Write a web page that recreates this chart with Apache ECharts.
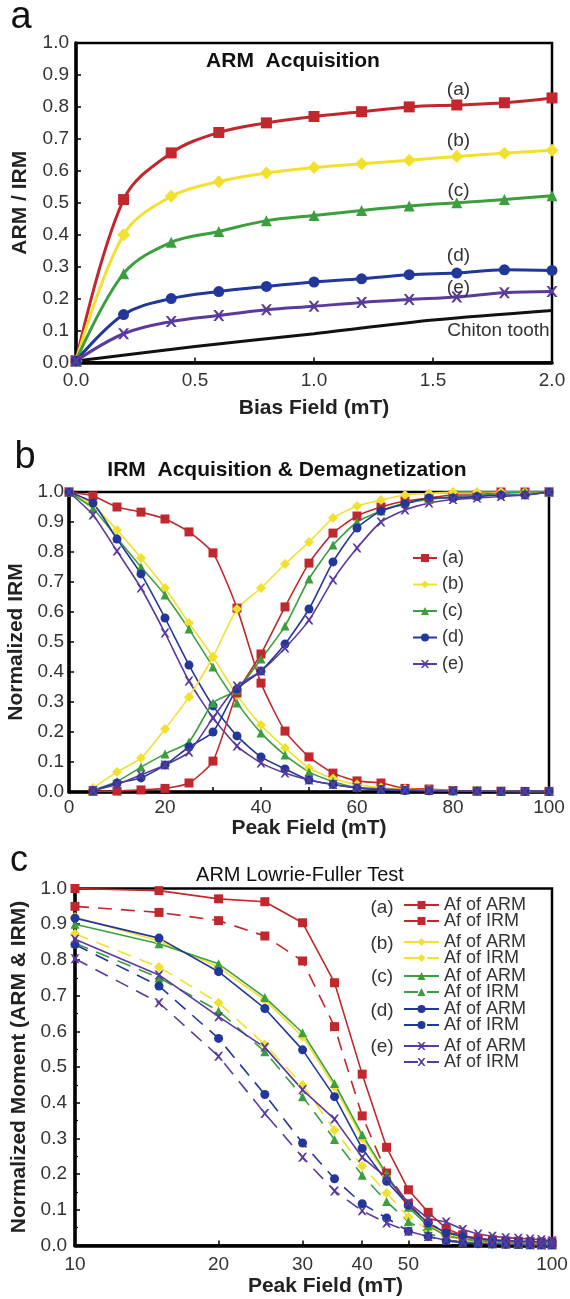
<!DOCTYPE html>
<html><head><meta charset="utf-8">
<script src="https://cdn.jsdelivr.net/npm/echarts@6/dist/echarts.min.js"></script>
<style>html,body{margin:0;padding:0;background:#fff}#c{width:570px;height:1299px}</style>
</head><body><div id="c"></div>
<script>
// ---------- Panel a: ARM acquisition ----------
const aX = [0, 0.2, 0.4, 0.6, 0.8, 1.0, 1.2, 1.4, 1.6, 1.8, 2.0];
const aA = [0.005, 0.51, 0.656, 0.72, 0.75, 0.77, 0.785, 0.80, 0.806, 0.813, 0.828];
const aB = [0.005, 0.40, 0.52, 0.566, 0.593, 0.61, 0.622, 0.633, 0.645, 0.655, 0.664];
const aC = [0.005, 0.278, 0.376, 0.41, 0.444, 0.46, 0.476, 0.49, 0.50, 0.51, 0.522];
const aD = [0.005, 0.15, 0.20, 0.222, 0.238, 0.252, 0.262, 0.275, 0.28, 0.29, 0.288];
const aE = [0.005, 0.09, 0.128, 0.147, 0.165, 0.176, 0.188, 0.197, 0.205, 0.218, 0.222];
const chitonX = [0, 0.5, 1.0, 1.5, 2.0];
const chitonY = [0.005, 0.05, 0.09, 0.133, 0.163];
const aLabels = ['(a)', '(b)', '(c)', '(d)', '(e)'];
const aLabelPos = [[1.607, 0.854], [1.607, 0.694], [1.607, 0.538], [1.607, 0.334], [1.607, 0.234]];
const chitonLabelPos = [1.775, 0.099];

// ---------- Panel b: IRM acquisition & demagnetization ----------
const bDemagX = [0,5,10,15,20,25,30,35,40,45,50,55,60,65,70,75,80,85,90,95,100];
const bAcqX = [5,10,15,20,25,30,35,40,45,50,55,60,65,70,75,80,85,90,95,100];
const bDemA = [1.0,0.987,0.95,0.933,0.91,0.867,0.797,0.613,0.363,0.203,0.117,0.063,0.037,0.03,0.012,0.01,0.005,0.003,0.003,0.002,0.002];
const bDemB = [1.0,0.955,0.873,0.78,0.68,0.563,0.45,0.323,0.223,0.147,0.08,0.045,0.025,0.015,0.01,0.007,0.005,0.004,0.003,0.002,0.002];
const bDemC = [1.0,0.945,0.847,0.75,0.657,0.543,0.417,0.297,0.197,0.123,0.067,0.035,0.015,0.01,0.007,0.005,0.004,0.003,0.002,0.002,0.002];
const bDemD = [1.0,0.963,0.843,0.727,0.58,0.423,0.287,0.187,0.117,0.077,0.04,0.025,0.013,0.008,0.005,0.004,0.003,0.003,0.002,0.002,0.002];
const bDemE = [1.0,0.923,0.803,0.68,0.53,0.37,0.247,0.153,0.097,0.063,0.04,0.025,0.015,0.01,0.007,0.005,0.004,0.003,0.002,0.002,0.002];
const bAcqA = [0.002,0.003,0.007,0.012,0.03,0.103,0.33,0.46,0.617,0.763,0.863,0.92,0.95,0.97,0.98,0.99,0.99,1.0,1.0,1.0];
const bAcqB = [0.013,0.067,0.113,0.21,0.317,0.45,0.61,0.68,0.76,0.833,0.913,0.953,0.973,0.99,0.995,1.0,1.0,1.0,1.0,1.0];
const bAcqC = [0.005,0.035,0.083,0.127,0.167,0.297,0.34,0.443,0.553,0.71,0.823,0.9,0.937,0.963,0.975,0.985,0.99,0.995,1.0,1.0];
const bAcqD = [0.005,0.03,0.047,0.09,0.15,0.2,0.343,0.403,0.493,0.61,0.767,0.88,0.937,0.96,0.98,0.98,0.985,0.99,0.99,1.0];
const bAcqE = [0.005,0.025,0.057,0.09,0.133,0.247,0.353,0.403,0.48,0.573,0.707,0.813,0.9,0.94,0.963,0.975,0.98,0.985,0.99,1.0];

// ---------- Panel c: ARM Lowrie-Fuller test ----------
const cX = [10,15,20,25,30,35,40,45,50,55,60,65,70,75,80,85,90,95,100];
const cArmA = [1.0,0.994,0.971,0.963,0.904,0.736,0.48,0.275,0.156,0.093,0.048,0.028,0.02,0.016,0.013,0.012,0.011,0.01,0.01];
const cArmB = [0.92,0.853,0.78,0.688,0.585,0.445,0.30,0.195,0.11,0.058,0.03,0.02,0.014,0.012,0.01,0.01,0.009,0.009,0.008];
const cArmC = [0.90,0.845,0.789,0.695,0.596,0.454,0.31,0.2,0.107,0.055,0.027,0.018,0.013,0.011,0.01,0.009,0.008,0.008,0.007];
const cArmD = [0.917,0.861,0.767,0.664,0.548,0.417,0.272,0.18,0.113,0.063,0.035,0.025,0.018,0.015,0.013,0.012,0.011,0.01,0.01];
const cArmE = [0.858,0.758,0.641,0.555,0.436,0.354,0.247,0.19,0.12,0.075,0.066,0.045,0.032,0.026,0.022,0.02,0.018,0.016,0.013];
// Af of IRM = demagnetization curves of panel b from 10 mT on
const cIrmA = bDemA.slice(2), cIrmB = bDemB.slice(2), cIrmC = bDemC.slice(2), cIrmD = bDemD.slice(2), cIrmE = bDemE.slice(2);
const cXLabels = [10, 20, 30, 40, 50, 100];
const cXTicks = [20, 30, 40, 50];

// ---------- styles ----------
const FONT = '"Liberation Sans", Arial, Helvetica, sans-serif';
const COL = ['#c1272d', '#f2e02f', '#3a9f3c', '#22379a', '#5a3a9c'];
const XSYM = 'path://M0,0 L2.2,0 L5,3.2 L7.8,0 L10,0 L6.3,5 L10,10 L7.8,10 L5,6.8 L2.2,10 L0,10 L3.7,5 Z';
const SYM = ['rect', 'diamond', 'triangle', 'circle', XSYM];
const pairs = (xs, ys) => xs.map((x, i) => [x, ys[i]]);

const axisCommon = (idx) => ({
  gridIndex: idx,
  axisLine: { show: true, onZero: false, lineStyle: { color: '#000', width: 3.5 } },
  axisTick: { show: true, inside: true, length: 5, lineStyle: { color: '#000', width: 1.5 } },
  axisLabel: { color: '#333', fontSize: 19, fontFamily: FONT },
  splitLine: { show: false },
  nameTextStyle: { color: '#222', fontSize: 21, fontWeight: 'bold', fontFamily: FONT },
  nameLocation: 'middle'
});
const fmt1 = v => v.toFixed(1);

const series = [];
// panel a
[aA, aB, aC, aD, aE].forEach((ys, i) => {
  series.push({
    name: 'A' + aLabels[i], type: 'line', xAxisIndex: 0, yAxisIndex: 0,
    data: pairs(aX, ys), smooth: 0.35, symbol: SYM[i], symbolSize: i === 1 ? 13 : 11,
    lineStyle: { color: COL[i], width: 3 }, itemStyle: { color: COL[i] },
    markPoint: {
      symbol: 'circle', symbolSize: 0, silent: true,
      label: { show: true, position: 'inside', formatter: aLabels[i], color: '#333', fontSize: 19, fontFamily: FONT },
      data: [{ coord: aLabelPos[i] }]
    }
  });
});
series.push({
  name: 'Chiton', type: 'line', xAxisIndex: 0, yAxisIndex: 0, data: pairs(chitonX, chitonY),
  smooth: 0.3, showSymbol: false, lineStyle: { color: '#111', width: 3 }, itemStyle: { color: '#111' }, z: 1,
  markPoint: {
    symbol: 'circle', symbolSize: 0, silent: true,
    label: { show: true, position: 'inside', formatter: 'Chiton tooth', color: '#333', fontSize: 19, fontFamily: FONT },
    data: [{ coord: chitonLabelPos }]
  }
});
// panel b
const bNames = ['(a)', '(b)', '(c)', '(d)', '(e)'];
[bDemA, bDemB, bDemC, bDemD, bDemE].forEach((ys, i) => {
  series.push({
    name: bNames[i], type: 'line', xAxisIndex: 1, yAxisIndex: 1, data: pairs(bDemagX, ys),
    smooth: 0.2, symbol: SYM[i], symbolSize: i === 1 ? 10 : 9,
    lineStyle: { color: COL[i], width: 1.6 }, itemStyle: { color: COL[i] }
  });
});
[bAcqA, bAcqB, bAcqC, bAcqD, bAcqE].forEach((ys, i) => {
  series.push({
    name: bNames[i], type: 'line', xAxisIndex: 1, yAxisIndex: 1, data: pairs(bAcqX, ys),
    smooth: 0.2, symbol: SYM[i], symbolSize: i === 1 ? 10 : 9,
    lineStyle: { color: COL[i], width: 1.6 }, itemStyle: { color: COL[i] }
  });
});
// panel c
const cArm = [cArmA, cArmB, cArmC, cArmD, cArmE];
const cIrm = [cIrmA, cIrmB, cIrmC, cIrmD, cIrmE];
const cLegends = [];
const cLegendTops = [891, 928, 962, 995, 1032];
cArm.forEach((ys, i) => {
  series.push({
    name: 'ARM' + bNames[i], type: 'line', xAxisIndex: 2, yAxisIndex: 2, data: pairs(cX, ys),
    symbol: SYM[i], symbolSize: i === 1 ? 10 : 9,
    lineStyle: { color: COL[i], width: 1.6 }, itemStyle: { color: COL[i] }
  });
  series.push({
    name: 'IRM' + bNames[i], type: 'line', xAxisIndex: 2, yAxisIndex: 2, data: pairs(cX, cIrm[i]),
    symbol: SYM[i], symbolSize: i === 1 ? 10 : 9,
    lineStyle: { color: COL[i], width: 1.6, type: [14, 9] }, itemStyle: { color: COL[i] }
  });
  cLegends.push({
    data: ['ARM' + bNames[i], 'IRM' + bNames[i]], orient: 'vertical', left: 398, top: cLegendTops[i],
    itemWidth: 35, itemHeight: 10, itemGap: -2, selectedMode: false,
    formatter: n => n.startsWith('ARM') ? 'Af of ARM' : 'Af of IRM',
    textStyle: { color: '#333', fontSize: 18, fontFamily: FONT, lineHeight: 15 }
  });
});

const texts = [];
const addText = (t, x, y, size, weight) => texts.push({
  type: 'text', x: x, y: y, silent: true,
  style: { text: t, fill: '#111', font: (weight || 'normal') + ' ' + size + 'px ' + FONT, align: 'center', verticalAlign: 'middle' }
});
addText('a', 21, 18, 38);
addText('ARM  Acquisition', 293, 61, 21, 'bold');
addText('b', 25, 458, 38);
addText('IRM  Acquisition & Demagnetization', 287, 470, 21, 'bold');
addText('c', 19, 861, 36);
addText('ARM Lowrie-Fuller Test', 300, 875, 20);
const cGroupY = [908, 944, 977, 1011, 1047];
bNames.forEach((n, i) => texts.push({
  type: 'text', x: 382, y: cGroupY[i], silent: true,
  style: { text: n, fill: '#333', font: '19px ' + FONT, align: 'center', verticalAlign: 'middle' }
}));

const gridStyle = { show: true, borderColor: '#000', borderWidth: 2.5, backgroundColor: 'transparent', outerBoundsMode: 'none', containLabel: false };

const option = {
  animation: false,
  backgroundColor: '#fff',
  textStyle: { fontFamily: FONT },
  grid: [
    Object.assign({ left: 76, right: 18, top: 43, height: 319.5 }, gridStyle),
    Object.assign({ left: 69, right: 21, top: 492, height: 300 }, gridStyle),
    Object.assign({ left: 75, right: 18, top: 888.5, height: 357 }, gridStyle)
  ],
  xAxis: [
    Object.assign(axisCommon(0), { type: 'value', min: 0, max: 2, interval: 0.5, name: 'Bias Field (mT)', nameGap: 35,
      axisLabel: Object.assign(axisCommon(0).axisLabel, { formatter: fmt1, margin: 9 }) }),
    Object.assign(axisCommon(1), { type: 'value', min: 0, max: 100, interval: 10, name: 'Peak Field (mT)', nameGap: 25,
      axisLabel: Object.assign(axisCommon(1).axisLabel, { margin: 6, formatter: v => (v % 20 === 0 ? String(v) : '') }) }),
    Object.assign(axisCommon(2), { type: 'log', logBase: 10, min: 10, max: 100, name: 'Peak Field (mT)', nameGap: 26,
      nameTextStyle: Object.assign(axisCommon(2).nameTextStyle, { padding: [0, 0, 0, 24] }),
      axisLabel: Object.assign(axisCommon(2).axisLabel, { margin: 10, customValues: cXLabels, formatter: v => String(Math.round(v)) }),
      axisTick: Object.assign(axisCommon(2).axisTick, { customValues: cXTicks }) })
  ],
  yAxis: [
    Object.assign(axisCommon(0), { type: 'value', min: 0, max: 1, interval: 0.1, name: 'ARM / IRM', nameGap: 45,
      axisLabel: Object.assign(axisCommon(0).axisLabel, { formatter: fmt1, margin: 7 }) }),
    Object.assign(axisCommon(1), { type: 'value', min: 0, max: 1, interval: 0.1, name: 'Normalized IRM', nameGap: 40,
      axisLabel: Object.assign(axisCommon(1).axisLabel, { formatter: fmt1, margin: 5 }) }),
    Object.assign(axisCommon(2), { type: 'value', min: 0, max: 1, interval: 0.1, name: 'Normalized Moment (ARM & IRM)', nameGap: 40,
      axisLabel: Object.assign(axisCommon(2).axisLabel, { formatter: fmt1, margin: 8 }),
      minorTick: { show: true, splitNumber: 2, length: 3, lineStyle: { color: '#000', width: 1.2 } } })
  ],
  legend: [
    { data: bNames, orient: 'vertical', left: 407, top: 543, itemWidth: 24, itemHeight: 10, itemGap: 6.5, selectedMode: false,
      textStyle: { color: '#333', fontSize: 18, fontFamily: FONT, lineHeight: 20 } }
  ].concat(cLegends),
  graphic: texts,
  series: series
};
const chart = echarts.init(document.getElementById('c'), null, { renderer: 'canvas' });
chart.setOption(option);
</script></body></html>
